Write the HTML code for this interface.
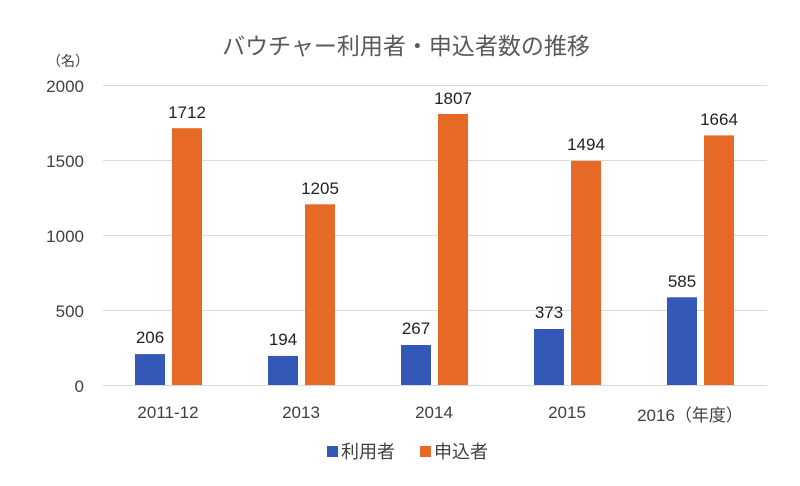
<!DOCTYPE html>
<html><head><meta charset="utf-8"><style>
body{margin:0;background:#fff;}
svg text{font-family:"Liberation Sans","Noto Sans CJK JP",sans-serif;}
</style></head><body>
<svg width="800" height="481" xmlns="http://www.w3.org/2000/svg">
<rect width="800" height="481" fill="#fff"/>
<text x="406" y="54" text-anchor="middle" font-size="23" fill="#595959">バウチャー利用者・申込者数の推移</text>
<text x="68" y="66" text-anchor="middle" font-size="14" fill="#404040">（名）</text>
<g stroke="#d9d9d9" stroke-width="1">
<line x1="103" y1="85.5" x2="767" y2="85.5"/>
<line x1="103" y1="160.5" x2="767" y2="160.5"/>
<line x1="103" y1="235.5" x2="767" y2="235.5"/>
<line x1="103" y1="310.5" x2="767" y2="310.5"/>
<line x1="103" y1="385.5" x2="767" y2="385.5"/>
</g>
<g font-size="17" fill="#404040" text-anchor="end">
<text x="84" y="92">2000</text>
<text x="84" y="167">1500</text>
<text x="84" y="242">1000</text>
<text x="84" y="317">500</text>
<text x="84" y="392">0</text>
</g>
<g fill="#3358b8">
<rect x="135" y="354.1" width="30" height="30.9"/>
<rect x="268" y="355.9" width="30" height="29.1"/>
<rect x="401" y="345" width="30" height="40"/>
<rect x="534" y="329" width="30" height="56"/>
<rect x="667" y="297.3" width="30" height="87.7"/>
</g>
<g fill="#e66a25">
<rect x="172" y="128.2" width="30" height="256.8"/>
<rect x="305" y="204.3" width="30" height="180.7"/>
<rect x="438" y="114" width="30" height="271"/>
<rect x="571" y="160.9" width="30" height="224.1"/>
<rect x="704" y="135.4" width="30" height="249.6"/>
</g>
<g font-size="17" fill="#222" text-anchor="middle">
<text x="150" y="343">206</text>
<text x="283" y="345">194</text>
<text x="416" y="334">267</text>
<text x="549" y="318">373</text>
<text x="682" y="287">585</text>
<text x="187" y="118">1712</text>
<text x="320" y="194">1205</text>
<text x="453" y="104">1807</text>
<text x="586" y="150">1494</text>
<text x="719" y="125">1664</text>
</g>
<g font-size="17" fill="#404040" text-anchor="middle">
<text x="168" y="418">2011-12</text>
<text x="301" y="418">2013</text>
<text x="434" y="418">2014</text>
<text x="567" y="418">2015</text>
<text x="690" y="421">2016（年度）</text>
</g>
<rect x="327" y="446" width="11" height="11" fill="#3358b8"/>
<text x="341" y="458" font-size="18" fill="#404040">利用者</text>
<rect x="420" y="446" width="11" height="11" fill="#e66a25"/>
<text x="434" y="458" font-size="18" fill="#404040">申込者</text>
</svg>
</body></html>
